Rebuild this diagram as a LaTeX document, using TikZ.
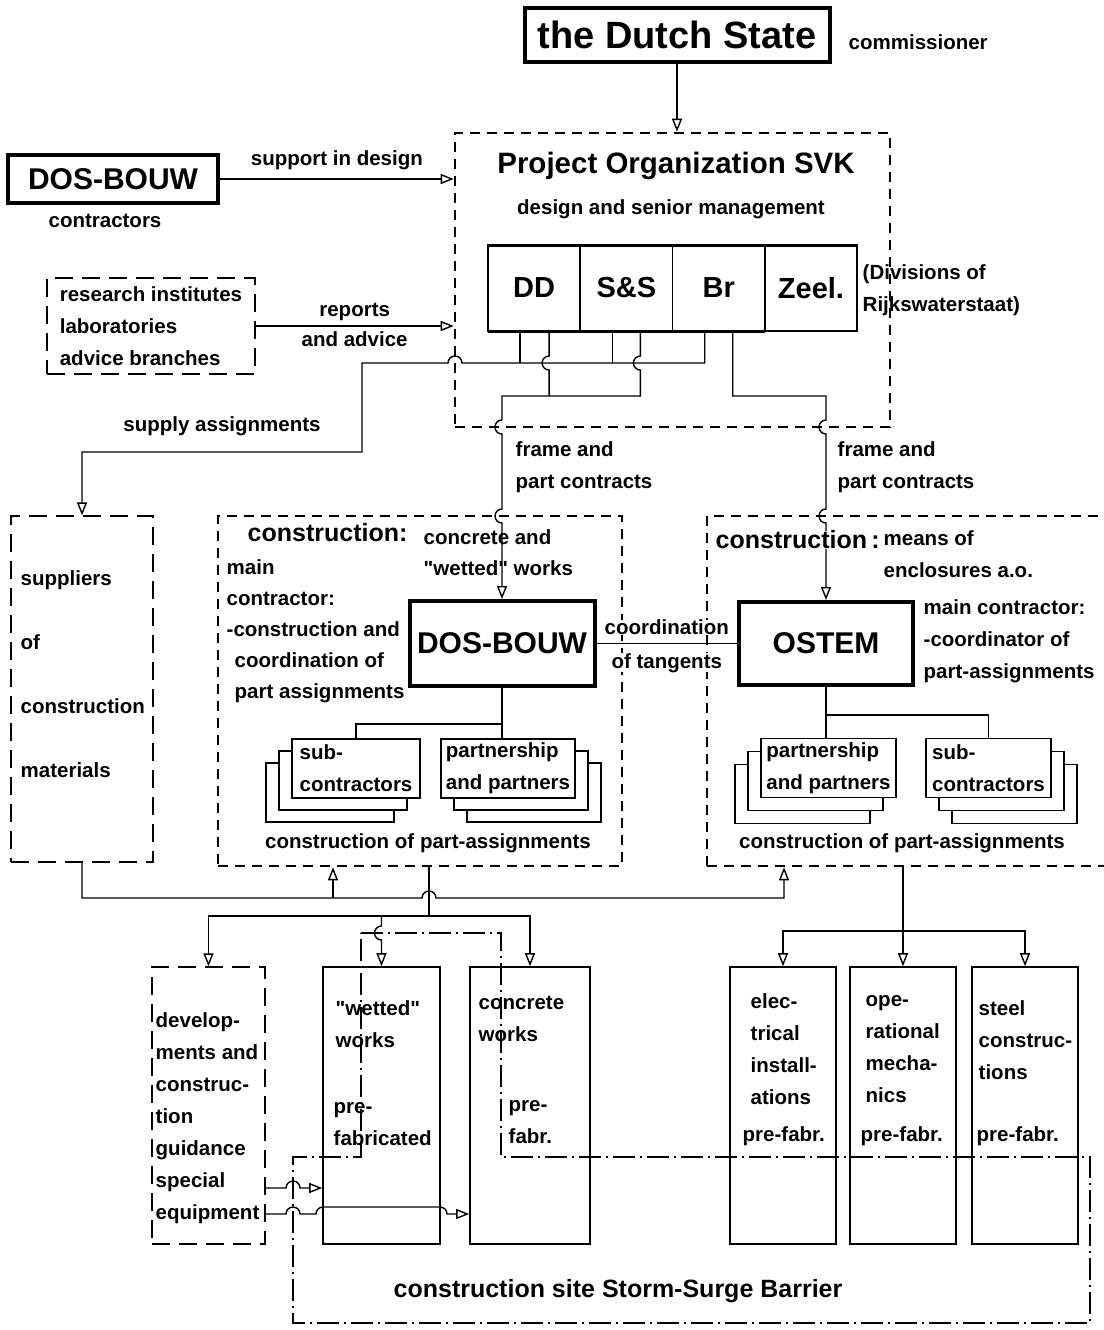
\documentclass[tikz,border=0pt]{standalone}
\usepackage{fontspec}
\setmainfont{Liberation Sans}
\newfontfamily\qtfam{Liberation Sans}
\usepackage{tikz}
\usetikzlibrary{arrows.meta, positioning}

\tikzset{
	lbl/.style={font=\fontsize{20.5}{32}\selectfont\bfseries, inner sep=0pt},
	biglbl/.style={font=\fontsize{25}{30}\selectfont\bfseries, inner sep=0pt},
	boxname/.style={font=\fontsize{30}{36}\selectfont\bfseries},
	heavybox/.style={draw, line width=4pt, inner sep=0pt},
	plainbox/.style={draw, line width=1.6pt, inner sep=0pt},
	stackbox/.style={plainbox, fill=white, minimum height=59},
	divbox/.style={draw, line width=1.6pt, minimum width=92.3, minimum height=86, outer sep=0pt, font=\fontsize{29}{34}\selectfont\bfseries},
	bigdash/.style={draw, line width=2.6pt, dash pattern=on 10pt off 7pt},
	thindash/.style={draw, line width=1.3pt, dash pattern=on 18pt off 9pt},
	sitedash/.style={line width=1.4pt, dash pattern=on 22pt off 5pt on 2pt off 5pt},
	arr/.style={-{Triangle[open, length=13pt, width=10pt]}},
}
\newcommand{\qt}{{\qtfam\bfseries"}}

\begin{document}
\begin{tikzpicture}[x=1pt, y=-1pt, line width=1.4pt]
	\useasboundingbox (0,0) rectangle (1103,1330);

	% commissioner and project organization
	\node[heavybox, minimum width=305, minimum height=54, font=\fontsize{38}{44}\selectfont\bfseries] (state) at (677,35) {the Dutch State};
	\node[lbl, anchor=west] (commish) at (848,42) {commissioner};
	\node[bigdash, minimum width=435, minimum height=294] (svk) at (672.5,280) {};
	\node[font=\fontsize{29.5}{34}\selectfont\bfseries, inner sep=0pt] (svktitle) at (676,166) {Project Organization SVK};
	\node[lbl] (svksub) at (671,209) {design and senior management};
	\draw[arr] (state.south) -- (state.south |- svk.north);

	\node[divbox] (dd) at (534.1,288) {DD};
	\node[divbox, right=0pt of dd] (ss) {S\&S};
	\node[divbox, right=0pt of ss] (br) {Br};
	\node[divbox, right=0pt of br] (zeel) {Zeel.};
	\draw[line width=3pt] (dd.north west) -- (zeel.north east);
	\draw[line width=3pt] (dd.south west) -- (br.south east);
	\node[lbl, anchor=west, align=left] (divnote) at (862,290) {(Divisions of\\Rijkswaterstaat)};

	\node[heavybox, minimum width=210, minimum height=48, boxname] (dbtop) at (113,179) {DOS-BOUW};
	\node[lbl] (contractors) at (105,221) {contractors};
	\draw[arr] (dbtop.east) -- node[lbl, above=8pt] (support) {support in design} (dbtop.east -| svk.west);

	\node[thindash, lbl, align=left, minimum width=208, minimum height=96] (research) at (151,326) {research institutes\\laboratories\\advice branches};
	\draw[arr] (research.east) -- node[lbl, above=5pt] (reports) {reports} node[lbl, below=5pt] (advice) {and advice} (research.east -| svk.west);

	% construction groups
	\node[thindash, minimum width=142, minimum height=346] (suppliers) at (82,689) {};
	\node[lbl, anchor=west, align=left, font=\fontsize{20.5}{64}\selectfont\bfseries] (suptext) at (20,674) {suppliers\\of\\construction\\materials};
	\node[bigdash, minimum width=404, minimum height=350] (cleft) at (420,691) {};
	\node[bigdash, minimum width=403, minimum height=350] (cright) at (908.5,691) {};

	\node[heavybox, minimum width=185, minimum height=85, boxname] (dbmid) at (502,643.5) {DOS-BOUW};
	\node[heavybox, minimum width=174, minimum height=83, boxname] (ostem) at (826,643.5) {OSTEM};

	% lines from the divisions
	\draw ([xshift=-14pt]dd.south) -- ++(0,32);
	\draw ([xshift=-14pt]ss.south) -- ++(0,32);
	\draw[arr] ([xshift=-14pt]br.south) |- (462,363) arc[start angle=0, end angle=-180, radius=7] -- (362,363) -- (362,452)
		-| node[lbl, pos=0.25, above=15pt] (supply) {supply assignments} (suppliers.north);
	\draw ([xshift=15pt]dd.south) -- ++(0,25) arc[start angle=-90, end angle=-270, radius=7] -- ++(0,26);
	\draw[arr] ([xshift=14pt]ss.south) -- ++(0,25) arc[start angle=-90, end angle=-270, radius=7] |- (502,396)
		-- (502,420) arc[start angle=-90, end angle=-270, radius=7]
		-- (502,509) arc[start angle=-90, end angle=-270, radius=7] -- (dbmid.north);
	\draw[arr] ([xshift=14pt]br.south) |- (826,396)
		-- (826,420) arc[start angle=-90, end angle=-270, radius=7]
		-- (826,509) arc[start angle=-90, end angle=-270, radius=7] -- (ostem.north);
	\node[lbl, anchor=west, align=left] (fpleft) at (515,467) {frame and\\part contracts};
	\node[lbl, anchor=west, align=left] (fpright) at (837,467) {frame and\\part contracts};

	\draw (dbmid.east) -- node[lbl, above=8pt, fill=white] (coord) {coordination} node[lbl, below=9pt, fill=white] (tangents) {of tangents} (ostem.west);

	\node[biglbl, anchor=west] (cltitle) at (247,533) {construction:};
	\node[lbl, anchor=west, align=left, font=\fontsize{20.5}{31}\selectfont\bfseries] (clwork) at (423,552.5) {concrete and\\\qt wetted\qt\ works};
	\node[lbl, anchor=west, align=left, font=\fontsize{20.5}{31}\selectfont\bfseries] (clrole) at (226,631.5) {main\\contractor:\\-construction and\\\hspace*{8pt}coordination of\\\hspace*{8pt}part assignments};
	\node[biglbl, anchor=west, fill=white] (crtitle) at (715,540) {construction\,:};
	\node[lbl, anchor=west, align=left] (crwork) at (883,554) {means of\\enclosures a.o.};
	\node[lbl, anchor=west, align=left] (crrole) at (923,641) {main contractor:\\-coordinator of\\part-assignments};

	% stacked part-assignment boxes
	\node[stackbox, minimum width=128] (subl3) at (330,792.5) {};
	\node[stackbox, minimum width=128] (subl2) at (343,780.5) {};
	\node[stackbox, minimum width=128, lbl, align=left] (subl) at (356,768.5) {sub-\\contractors};
	\node[stackbox, minimum width=134] (partl3) at (534,792.5) {};
	\node[stackbox, minimum width=134] (partl2) at (521,780.5) {};
	\node[stackbox, minimum width=134, lbl, align=left] (partl) at (508,768.5) {partnership\\and partners};
	\node[stackbox, minimum width=135] (partr3) at (802.5,794) {};
	\node[stackbox, minimum width=135] (partr2) at (815.5,781) {};
	\node[stackbox, minimum width=135, lbl, align=left] (partr) at (828.5,768) {partnership\\and partners};
	\node[stackbox, minimum width=125] (subr3) at (1014.5,794) {};
	\node[stackbox, minimum width=125] (subr2) at (1001.5,781) {};
	\node[stackbox, minimum width=125, lbl, align=left] (subr) at (988.5,768) {sub-\\contractors};

	\draw (dbmid.south) -- (dbmid.south |- partl.north);
	\draw (dbmid.south) ++(0,36) -| (subl.north);
	\draw (ostem.south) -- (ostem.south |- partr.north);
	\draw (ostem.south) ++(0,28) -| (subr.north);

	\node[lbl] (cltail) at (428,843) {construction of part-assignments};
	\node[lbl] (crtail) at (902,843) {construction of part-assignments};

	% works on the site
	\node[thindash, minimum width=113, minimum height=277] (devel) at (208.5,1105.5) {};
	\node[lbl, anchor=west, align=left] (develtext) at (155,1118) {develop-\\ments and\\construc-\\tion\\guidance\\special\\equipment};
	\node[plainbox, minimum width=117, minimum height=277] (wetted) at (381.5,1105.5) {};
	\node[lbl, anchor=west, align=left] (wettedtext) at (335,1024) {\qt wetted\qt\\works};
	\node[lbl, anchor=west, align=left] (wettedpre) at (333,1124) {pre-\\fabricated};
	\node[plainbox, minimum width=120, minimum height=277] (concrete) at (530,1105.5) {};
	\node[lbl, anchor=west, align=left] (concretetext) at (478,1019) {concrete\\works};
	\node[lbl, anchor=west, align=left] (concretepre) at (508,1122) {pre-\\fabr.};
	\node[plainbox, minimum width=106, minimum height=277] (elec) at (783,1105.5) {};
	\node[lbl, anchor=west, align=left] (electext) at (750,1049) {elec-\\trical\\install-\\ations};
	\node[lbl, anchor=west] (elecpre) at (742,1136) {pre-fabr.};
	\node[plainbox, minimum width=106, minimum height=277] (opmech) at (903,1105.5) {};
	\node[lbl, anchor=west, align=left] (opmechtext) at (865,1049) {ope-\\rational\\mecha-\\nics};
	\node[lbl, anchor=west] (opmechpre) at (860,1136) {pre-fabr.};
	\node[plainbox, minimum width=106, minimum height=277] (steel) at (1025,1105.5) {};
	\node[lbl, anchor=west, align=left] (steeltext) at (978,1040) {steel\\construc-\\tions};
	\node[lbl, anchor=west] (steelpre) at (976,1136) {pre-fabr.};

	\draw[sitedash] (361,933) -- (501,933) -- (501,1157) -- (1090,1157) -- (1090,1323) -- (293,1323) -- (293,1157) -- (361,1157) -- cycle;
	\node[biglbl] (site) at (618,1291) {construction site Storm-Surge Barrier};

	% supply and assignment lines
	\coordinate (supj) at (333,898);
	\draw[arr] (suppliers.south) |- (422,898) arc[start angle=180, end angle=360, radius=7] -| ([xshift=-124.5pt]cright.south);
	\draw[arr] (supj) -- (supj |- cleft.south);
	\coordinate (devj) at (429,916);
	\draw ([xshift=9pt]cleft.south) -- (devj);
	\draw[arr] (devj) -| (devel.north);
	\draw[arr] (devj) -| (concrete.north);
	\draw[arr] (wetted.north |- devj) -- ++(0,10) arc[start angle=-90, end angle=-270, radius=7] -- (wetted.north);
	\draw[arr] (opmech.north |- cright.south) -- (opmech.north);
	\coordinate (opj) at (903,931);
	\draw[arr] (opj) -| (elec.north);
	\draw[arr] (opj) -| (steel.north);

	\draw[arr] ([yshift=-82.5pt]devel.east) -- (286,1188) arc[start angle=180, end angle=360, radius=7] -- ([yshift=-82.5pt]wetted.west);
	\draw[arr] ([yshift=-108.5pt]devel.east) -- (286,1214) arc[start angle=180, end angle=360, radius=7]
		-- (316,1214) arc[start angle=180, end angle=270, radius=7] -- (440,1207)
		arc[start angle=270, end angle=360, radius=7] -- ([yshift=-108.5pt]concrete.west);
\end{tikzpicture}
\end{document}
